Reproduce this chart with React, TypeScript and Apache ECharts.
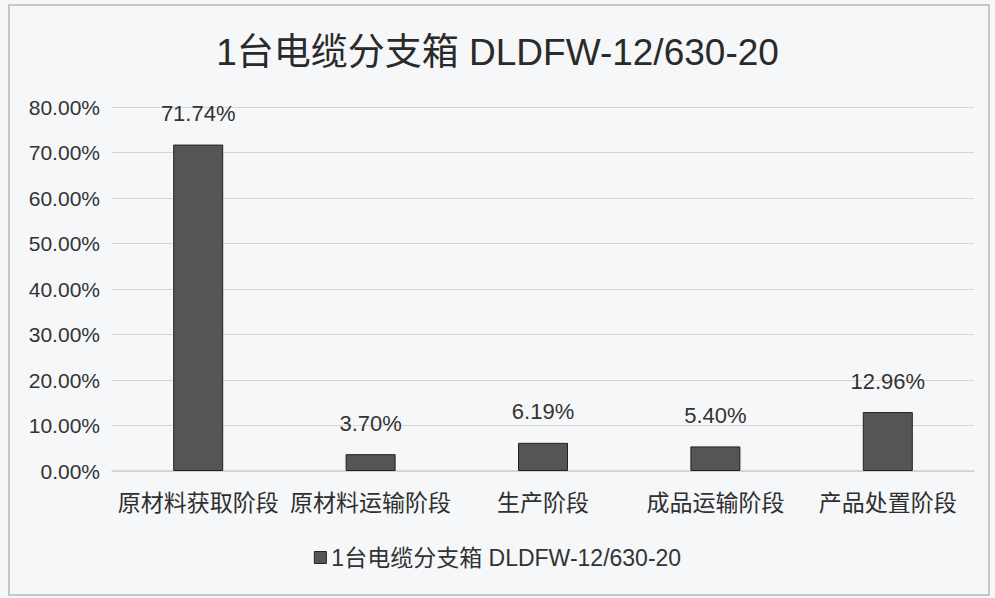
import React, { useEffect, useRef } from "react";
import * as echarts from "echarts";

const titleText = "1台电缆分支箱 DLDFW-12/630-20";
const seriesName = "1台电缆分支箱 DLDFW-12/630-20";
const categories = ["原材料获取阶段", "原材料运输阶段", "生产阶段", "成品运输阶段", "产品处置阶段"];
const values = [71.74, 3.7, 6.19, 5.4, 12.96];
const yTicks = [0, 10, 20, 30, 40, 50, 60, 70, 80];

export default function App() {
  const ref = useRef<HTMLDivElement>(null);
  useEffect(() => {
    if (!ref.current) return;
    const chart = echarts.init(ref.current, null, { renderer: "svg" });
    const font = "'Liberation Sans', Arial, 'Noto Sans CJK SC', sans-serif";
    chart.setOption({
      animation: false,
      backgroundColor: "#f6f7f9",
      textStyle: { fontFamily: font },
      title: {
        text: titleText,
        left: "center",
        top: 29,
        textStyle: { fontSize: 37, fontWeight: "normal", color: "#2a2a2a", fontFamily: font },
      },
      graphic: [
        {
          type: "rect",
          shape: { x: 9, y: 5, width: 980, height: 590 },
          style: { fill: "none", stroke: "#b8b8b8", lineWidth: 1.5 },
          silent: true,
        },
      ],
      legend: {
        bottom: 24,
        left: "center",
        itemWidth: 12,
        itemHeight: 12,
        itemGap: 6,
        icon: "rect",
        textStyle: { fontSize: 23, color: "#333", fontFamily: font },
        data: [{ name: seriesName, itemStyle: { color: "#555", borderColor: "#222", borderWidth: 1 } }],
      },
      grid: { left: 112, right: 21, top: 107, bottom: 127, containLabel: false },
      xAxis: {
        type: "category",
        data: categories,
        axisLine: { show: true, lineStyle: { color: "#cfcfcf", width: 1.5 } },
        axisTick: { show: false },
        axisLabel: { fontSize: 23, color: "#2f2f2f", margin: 20, interval: 0, fontFamily: font },
      },
      yAxis: {
        type: "value",
        min: 0,
        max: 80,
        interval: 10,
        axisLine: { show: false },
        axisTick: { show: false },
        splitLine: { lineStyle: { color: "#d6d6d6", width: 1.2 } },
        axisLabel: {
          fontSize: 21,
          color: "#333",
          margin: 12,
          formatter: (v: number) => (yTicks.includes(v) ? v.toFixed(2) + "%" : ""),
        },
      },
      series: [
        {
          name: seriesName,
          type: "bar",
          data: values,
          barWidth: 50,
          itemStyle: { color: "#555555", borderColor: "#222", borderWidth: 1 },
          label: {
            show: true,
            position: "top",
            distance: 20,
            fontSize: 22,
            color: "#333",
            formatter: (p: any) => Number(p.value).toFixed(2) + "%",
          },
        },
      ],
    });
    return () => chart.dispose();
  }, []);
  return (
    <div
      ref={ref}
      style={{ position: "fixed", left: 0, top: 0, width: 995, height: 598 }}
    />
  );
}
